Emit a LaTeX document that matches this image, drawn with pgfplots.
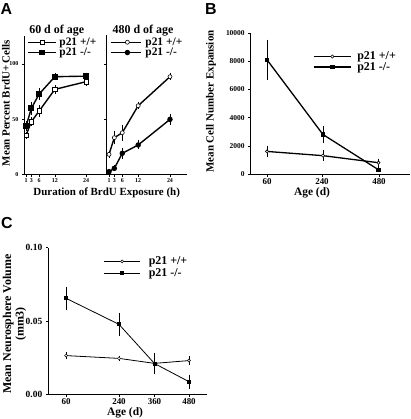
\documentclass[border=0pt]{standalone}
\usepackage{pgfplots}
\pgfplotsset{compat=1.18}
\usepackage{fontspec}
\setmainfont{Liberation Serif}
\newfontfamily\sansb{Liberation Sans}

\pgfplotsset{
 common/.style={
  scale only axis, axis x line*=bottom, axis y line*=left,
  axis line style={line width=0.6pt},
  tick align=outside, major tick length=2.5bp,
  tick style={black, line width=0.5pt},
  tick label style={font=\bfseries\fontsize{6}{7}\selectfont},
  /pgf/number format/assume math mode=true,
  xtick pos=bottom, ytick pos=left,
  scaled ticks=false,
  clip=false,
  legend style={draw=none, fill=none, inner sep=0pt, outer sep=0pt,
    nodes={inner sep=0pt, outer sep=0pt},
    font=\bfseries\fontsize{11.5}{12}\selectfont, row sep=1.2bp,
    cells={anchor=west}, anchor=north west},
  legend cell align=left,
  every axis plot/.append style={black, line width=1.4pt},
 },
 eb/.style={error bars/.cd, y dir=both, y explicit,
   error bar style={line width=0.5pt},
   error mark options={black, mark size=1.2bp, line width=0.5pt}},
 leglen/.style 2 args={legend image code/.code={
   \draw[##1] (0bp,0bp) -- (#1,0bp);
   \draw[##1] plot coordinates {(#2,0bp)};}},
}

\begin{document}
\begin{tikzpicture}
\path[use as bounding box] (0,0) rectangle (411bp,-419bp);

% ---------- Panel A left ----------
\begin{axis}[common, at={(24.3bp,-174.3bp)}, anchor=south west,
  width=82.2bp, height=138.3bp,
  xmin=0.3, xmax=31.8, ymin=0, ymax=125.4,
  xtick={1,3,6,12,24}, ytick={0,50,100},
  xticklabel style={inner sep=1.5bp},
  legend style={at={(0.0365,0.988)}, column sep=3bp}, leglen={27.7bp}{14.4bp}]
\addplot[mark=square*, mark size=2.2bp, mark options={fill=white, line width=0.6pt}, eb]
 coordinates {(1,35.4) +- (0,2) (3,47.7) +- (0,3) (6,57.4) +- (0,4) (12,77) +- (0,3) (24,84) +- (0,3)};
\addlegendentry{p21 +/+}
\addplot[mark=square*, mark size=2.2bp, mark options={fill=black}, eb]
 coordinates {(1,43.8) +- (0,3) (3,59.8) +- (0,5) (6,72.8) +- (0,4) (12,88.5) +- (0,2) (24,89) +- (0,2)};
\addlegendentry{p21 -/-}
\end{axis}

% ---------- Panel A right ----------
\begin{axis}[common, at={(106.5bp,-174.3bp)}, anchor=south west,
  width=80.2bp, height=139.3bp,
  xmin=0.05, xmax=30.3, ymin=0, ymax=126.3,
  xtick={1,3,6,12,24}, ytick={0,50,100}, yticklabels={},
  xticklabel style={inner sep=1.5bp},
  legend style={at={(0.0436,0.9806)}, column sep=4bp}, leglen={30bp}{16.7bp}]
\addplot[mark=*, mark size=2bp, mark options={fill=white, line width=0.6pt}, eb]
 coordinates {(1,18.1) +- (0,2) (3,33.2) +- (0,5) (6,37.7) +- (0,6) (12,62.2) +- (0,2) (24,88.5) +- (0,2)};
\addlegendentry{p21 +/+}
\addplot[mark=*, mark size=2bp, mark options={fill=black}, eb]
 coordinates {(1,2.4) +- (0,1) (3,5.4) +- (0,1.5) (6,19) +- (0,4) (12,26.6) +- (0,3) (24,49.8) +- (0,4)};
\addlegendentry{p21 -/-}
\end{axis}

% ---------- Panel B ----------
\begin{axis}[common, at={(250.7bp,-174bp)}, anchor=south west,
  width=159.3bp, height=141bp,
  xmin=250.7, xmax=410, ymin=0, ymax=10000,
  xtick={267,322,379}, xticklabels={60,240,480},
  ytick={0,2000,4000,6000,8000,10000},
  yticklabel style={/pgf/number format/1000 sep={}, font=\bfseries\fontsize{7.5}{8}\selectfont},
  xticklabel style={font=\bfseries\fontsize{9}{10}\selectfont, inner sep=1.5bp},
  every axis plot/.append style={line width=1.3pt},
  legend style={at={(0.393,0.8667)}, column sep=6bp,
    font=\bfseries\fontsize{12}{12}\selectfont, row sep=1.2bp},
  leglen={36.7bp}{18.4bp}]
\addplot[mark=*, mark size=1.6bp, mark options={fill=white, line width=0.6pt}, eb]
 coordinates {(267,1600) +- (0,300) (323,1300) +- (0,300) (378.5,800) +- (0,200)};
\addlegendentry{p21 +/+}
\addplot[mark=square*, mark size=1.6bp, mark options={fill=black}, eb]
 coordinates {(267,8100) +- (0,1350) (323,2800) +- (0,550) (378.5,300) +- (0,80)};
\addlegendentry{p21 -/-}
\end{axis}

% ---------- Panel C ----------
\begin{axis}[common, at={(48.3bp,-394.3bp)}, anchor=south west,
  width=158.4bp, height=146.6bp,
  xmin=48.3, xmax=206.7, ymin=0, ymax=0.1,
  xtick={66,119,154.5,189}, xticklabels={60,240,360,480},
  ytick={0,0.05,0.1},
  yticklabel style={/pgf/number format/fixed, /pgf/number format/fixed zerofill,
    /pgf/number format/precision=2, font=\bfseries\fontsize{9.5}{10}\selectfont},
  xticklabel style={font=\bfseries\fontsize{9}{10}\selectfont, inner sep=1.5bp},
  every axis plot/.append style={line width=0.8pt},
  legend style={at={(0.347,0.9386)}, column sep=8bp,
    font=\bfseries\fontsize{12}{12}\selectfont, row sep=2.5bp},
  leglen={36.7bp}{18.4bp}]
\addplot[mark=*, mark size=1.5bp, mark options={fill=white, line width=0.5pt}, eb]
 coordinates {(66,0.0264) +- (0,0.0015) (119,0.0245) +- (0,0.001) (154.5,0.0211) +- (0,0.002) (189,0.023) +- (0,0.002)};
\addlegendentry{p21 +/+}
\addplot[mark=square*, mark size=1.5bp, mark options={fill=black}, eb]
 coordinates {(66,0.0655) +- (0,0.007) (119,0.0477) +- (0,0.007) (154.5,0.021) +- (0,0.0064) (189,0.0086) +- (0,0.004)};
\addlegendentry{p21 -/-}
\end{axis}

% ---------- Text ----------
\node[font=\sansb\bfseries\fontsize{16}{16}\selectfont] at (6.5bp,-9.5bp) {A};
\node[font=\sansb\bfseries\fontsize{16}{16}\selectfont] at (211bp,-9.5bp) {B};
\node[font=\sansb\bfseries\fontsize{16}{16}\selectfont] at (7bp,-223.5bp) {C};

\node[font=\bfseries\fontsize{12}{12}\selectfont] at (56.7bp,-31bp) {60 d of age};
\node[font=\bfseries\fontsize{12}{12}\selectfont] at (143bp,-31bp) {480 d of age};

\node[font=\bfseries\fontsize{11}{12}\selectfont, rotate=90] at (6bp,-103bp) {Mean Percent BrdU+ Cells};
\node[font=\bfseries\fontsize{11}{12}\selectfont] at (106.7bp,-192.5bp) {Duration of BrdU Exposure (h)};

\node[font=\bfseries\fontsize{11}{12}\selectfont, rotate=90] at (211bp,-101.5bp) {Mean Cell Number Expansion};
\node[font=\bfseries\fontsize{11.5}{12}\selectfont] at (312bp,-192.5bp) {Age (d)};

\node[font=\bfseries\fontsize{12}{12.5}\selectfont, rotate=90, align=center] at (14.5bp,-324bp) {Mean Neurosphere Volume\\(mm3)};
\node[font=\bfseries\fontsize{11.5}{12}\selectfont] at (125bp,-412.5bp) {Age (d)};
\end{tikzpicture}
\end{document}
